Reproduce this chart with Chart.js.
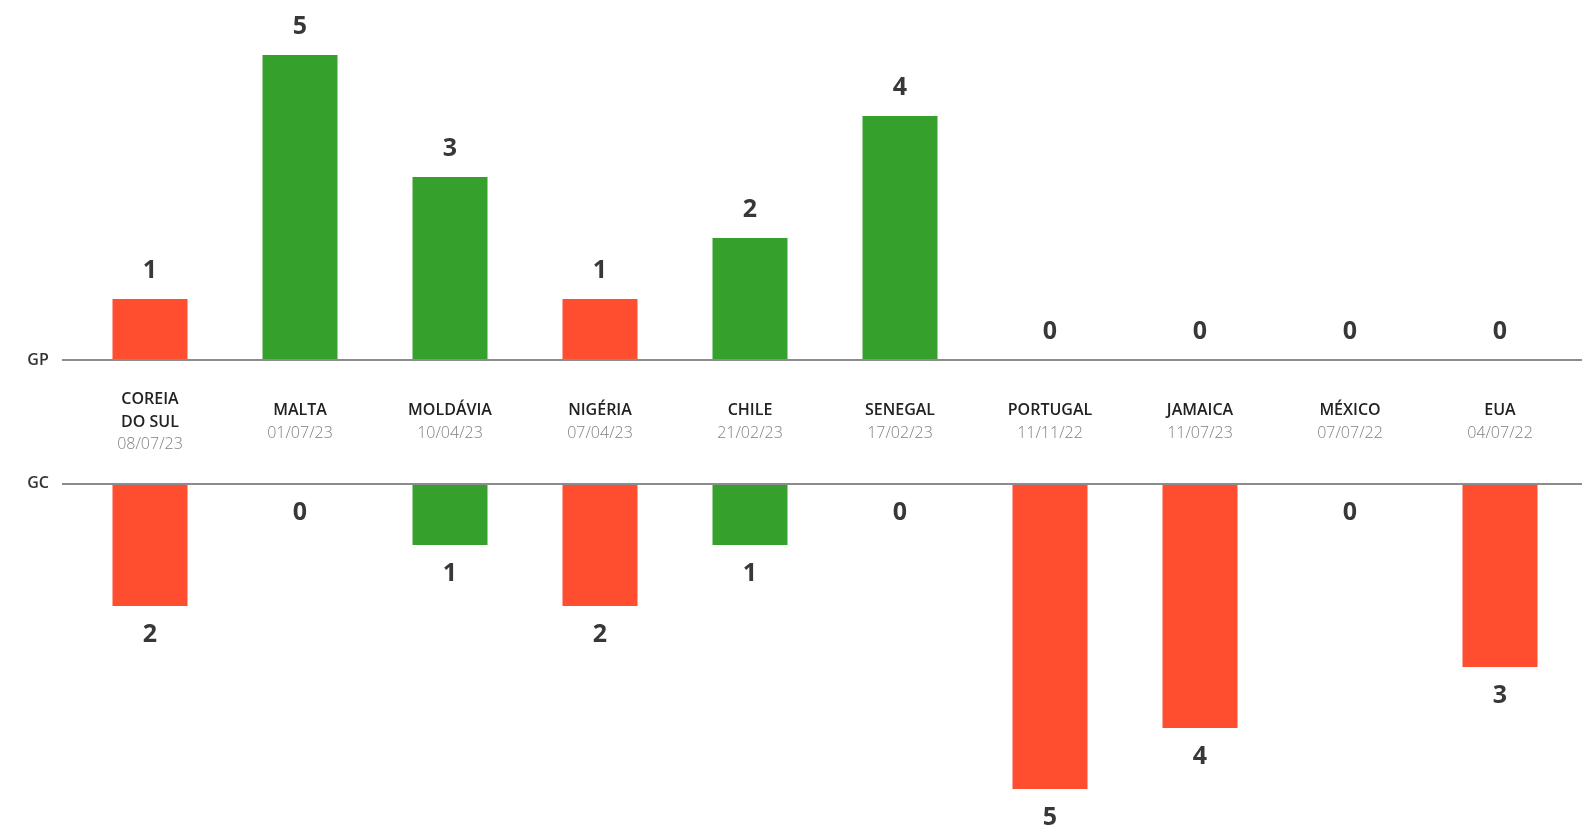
<!DOCTYPE html>
<html>
<head>
<meta charset="utf-8">
<script src="https://cdn.jsdelivr.net/npm/chart.js@4.4.0/dist/chart.umd.min.js"></script>
<style>
  html, body { margin: 0; padding: 0; background: #fff; }
  #wrap { width: 1582px; height: 836px; position: relative; }
</style>
</head>
<body>
<div id="wrap"><canvas id="chart"></canvas></div>
<script>
// adversários, datas e placar de cada jogo
const teams = [['COREIA', 'DO SUL'], ['MALTA'], ['MOLDÁVIA'], ['NIGÉRIA'], ['CHILE'],
  ['SENEGAL'], ['PORTUGAL'], ['JAMAICA'], ['MÉXICO'], ['EUA']];
const dates = ['08/07/23', '01/07/23', '10/04/23', '07/04/23', '21/02/23',
  '17/02/23', '11/11/22', '11/07/23', '07/07/22', '04/07/22'];
const goalsFor = [1, 5, 3, 1, 2, 4, 0, 0, 0, 0];      // GP
const goalsAgainst = [2, 0, 1, 2, 1, 0, 5, 4, 0, 3];  // GC

const GREEN = '#36a02d';
const RED = '#ff4d30';
const GAP = 2.03; // distância entre a linha GP e a linha GC, em gols

const resultColor = (i) => goalsFor[i] > goalsAgainst[i] ? GREEN : RED;

const fontFamily = '"Open Sans", "DejaVu Sans", sans-serif';

const labelsPlugin = {
  id: 'gameLabels',
  afterDatasetsDraw(chart) {
    const { ctx, scales } = chart;
    const x = scales.x;
    const y = scales.y;
    const gpY = y.getPixelForValue(0);
    const gcY = y.getPixelForValue(-GAP);

    ctx.save();
    // linhas de base
    ctx.strokeStyle = '#8c8c8c';
    ctx.lineWidth = 2;
    [gpY, gcY].forEach((py) => {
      ctx.beginPath();
      ctx.moveTo(62, py);
      ctx.lineTo(chart.width, py);
      ctx.stroke();
    });

    ctx.fillStyle = '#333';
    ctx.font = `600 16px ${fontFamily}`;
    ctx.textAlign = 'center';
    ctx.textBaseline = 'middle';
    ctx.fillText('GP', 38, gpY);
    ctx.fillText('GC', 38, gcY);

    // valores
    ctx.font = `bold 25px ${fontFamily}`;
    ctx.fillStyle = '#383838';
    const gpMeta = chart.getDatasetMeta(0);
    const gcMeta = chart.getDatasetMeta(1);
    gpMeta.data.forEach((bar, i) => {
      ctx.fillText(String(goalsFor[i]), bar.x, bar.y - 28);
    });
    gcMeta.data.forEach((bar, i) => {
      const bottom = Math.max(bar.y, bar.base);
      ctx.fillText(String(goalsAgainst[i]), bar.x, bottom + 29);
    });

    // adversário + data
    const mid = (gpY + gcY) / 2;
    teams.forEach((lines, i) => {
      const cx = x.getPixelForValue(i);
      const total = lines.length + 1;
      const lineH = 22.5;
      let py = mid - ((total - 1) * lineH) / 2;
      ctx.font = `600 16px ${fontFamily}`;
      ctx.fillStyle = '#222';
      lines.forEach((t) => {
        ctx.fillText(t, cx, py);
        py += lineH;
      });
      ctx.font = `300 16px ${fontFamily}`;
      ctx.fillStyle = '#808080';
      ctx.fillText(dates[i], cx, py);
    });
    ctx.restore();
  }
};

new Chart(document.getElementById('chart'), {
  type: 'bar',
  data: {
    labels: teams.map((t) => t.join(' ')),
    datasets: [
      {
        label: 'GP',
        data: goalsFor,
        backgroundColor: goalsFor.map((v, i) => resultColor(i)),
        borderWidth: 0,
        grouped: false,
        barPercentage: 0.5,
        categoryPercentage: 1
      },
      {
        label: 'GC',
        data: goalsAgainst.map((v) => [-GAP - v, -GAP]),
        backgroundColor: goalsAgainst.map((v, i) => resultColor(i)),
        borderWidth: 0,
        grouped: false,
        barPercentage: 0.5,
        categoryPercentage: 1
      }
    ]
  },
  options: {
    responsive: true,
    maintainAspectRatio: false,
    animation: false,
    layout: { padding: { top: 0, bottom: 0, left: 75, right: 7 } },
    plugins: {
      legend: { display: false },
      tooltip: { enabled: false }
    },
    scales: {
      x: { display: false, grid: { display: false } },
      y: { display: false, min: -7.8, max: 5.9, grid: { display: false } }
    }
  },
  plugins: [labelsPlugin]
});
</script>
</body>
</html>
